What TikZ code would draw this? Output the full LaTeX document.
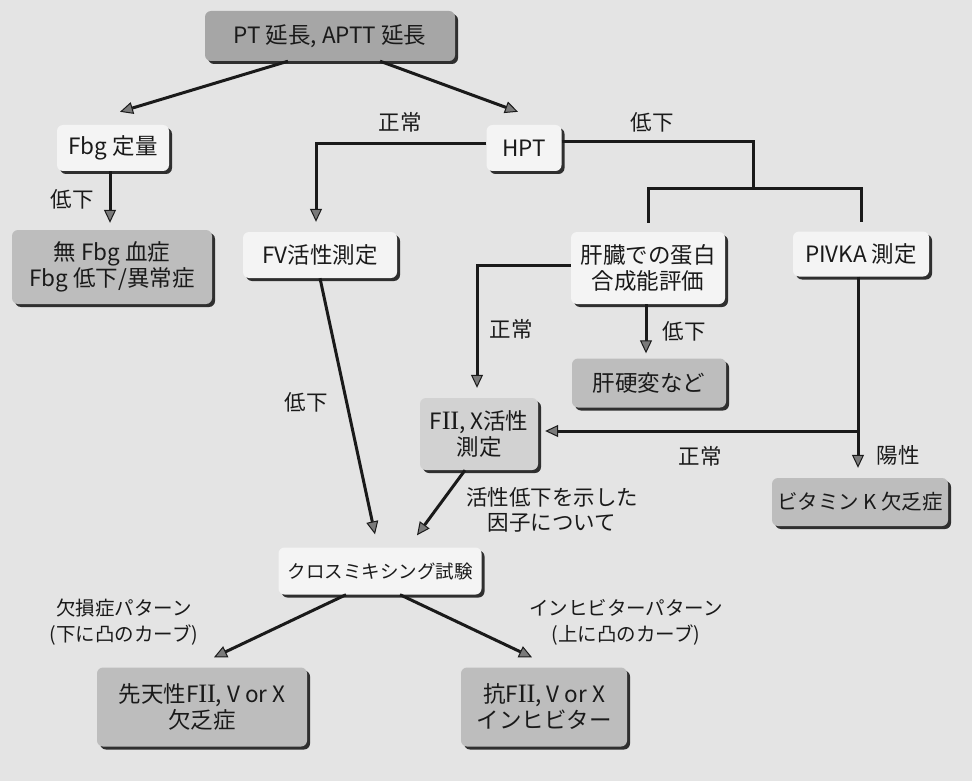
\documentclass[tikz,border=0pt]{standalone}
\usepackage{fontspec}
\setmainfont{Noto Sans CJK JP}
\newfontfamily\romfont{Liberation Serif}[Scale=1.18]
\newcommand{\rmii}{{\romfont I\kern-0.3pt I}}
\usetikzlibrary{arrows.meta,shadows,calc}
\definecolor{bgcol}{HTML}{E4E4E4}
\definecolor{lightfill}{HTML}{F4F4F4}
\definecolor{midfill}{HTML}{D2D2D2}
\definecolor{grayfill}{HTML}{BDBDBD}
\definecolor{darkfill}{HTML}{A6A6A6}
\definecolor{ink}{HTML}{1A1A1A}
\definecolor{tipfill}{HTML}{7A7A7A}
\begin{document}
\begin{tikzpicture}[x=1pt,y=-1pt,
  boxbase/.style={rounded corners=6pt, align=center, inner sep=0pt, text=ink,
    font=\fontsize{22.5}{26}\selectfont,
    drop shadow={shadow xshift=3pt, shadow yshift=-3pt, fill=black!85, opacity=0.95}},
  lightbox/.style={boxbase, fill=lightfill},
  midbox/.style={boxbase, fill=midfill},
  graybox/.style={boxbase, fill=grayfill},
  darkbox/.style={boxbase, fill=darkfill},
  lab/.style={font=\fontsize{21.5}{25}\selectfont, text=ink, inner sep=0pt, align=center},
  smalllab/.style={font=\fontsize{19.5}{26}\selectfont, text=ink, inner sep=0pt, align=center},
  conn/.style={draw=ink, line width=3pt},
  arr/.style={conn, -{Triangle[length=13pt,width=12pt,fill=tipfill,line width=1pt]}},
]
\fill[bgcol] (0,0) rectangle (972,781);
\useasboundingbox (0,0) rectangle (972,781);

% boxes
\node[darkbox, minimum width=250pt, minimum height=50pt] (pt) at (330,36) {PT 延長, APTT 延長};
\node[lightbox, minimum width=112pt, minimum height=46pt] (fbg) at (113,148) {Fbg 定量};
\node[graybox, minimum width=200pt, minimum height=74pt] (mufbg) at (112,267) {無 Fbg 血症\\Fbg 低下/異常症};
\node[lightbox, minimum width=75pt, minimum height=46pt] (hpt) at (524,148) {HPT};
\node[lightbox, minimum width=154pt, minimum height=46pt] (fv) at (320,255) {FV活性測定};
\node[lightbox, minimum width=154pt, minimum height=72pt] (kanzo) at (648,268) {肝臓での蛋白\\合成能評価};
\node[lightbox, minimum width=136pt, minimum height=45pt] (pivka) at (861,254) {PIVKA 測定};
\node[graybox, minimum width=154pt, minimum height=49pt] (kanko) at (649,383) {肝硬変など};
\node[midbox, minimum width=118pt, minimum height=72pt] (f2x) at (479,434) {F\rmii, X活性\\測定};
\node[graybox, minimum width=176pt, minimum height=48pt, font=\fontsize{20.5}{24}\selectfont] (vitk) at (860,502) {ビタミン K 欠乏症};
\node[lightbox, minimum width=203pt, minimum height=47pt, font=\fontsize{18.5}{22}\selectfont] (cross) at (380,571) {クロスミキシング試験};
\node[graybox, minimum width=210pt, minimum height=79pt] (sentensei) at (202,707) {先天性F\rmii, V or X\\欠乏症};
\node[graybox, minimum width=166pt, minimum height=79pt] (kou) at (544,707) {抗F\rmii, V or X\\インヒビター};

% labels
\node[lab] (l1) at (400,122) {正常};
\node[lab] (l2) at (652,122) {低下};
\node[lab] (l3) at (72,199) {低下};
\node[lab] (l4) at (306,402) {低下};
\node[lab] (l5) at (511,329) {正常};
\node[lab] (l6) at (684,331) {低下};
\node[lab] (l7) at (700,456) {正常};
\node[lab] (l8) at (898,455) {陽性};
\node[lab] (l9) at (552,510) {活性低下を示した\\因子について};
\node[smalllab] (l10) at (124,622) {欠損症パターン\\(下に凸のカーブ)};
\node[smalllab] (l11) at (626,622) {インヒビターパターン\\(上に凸のカーブ)};

% connectors
\draw[arr] ([xshift=-42pt]pt.south) -- ([xshift=7pt,yshift=13pt]fbg.north);
\draw[arr] ([xshift=50pt]pt.south) -- ([xshift=-6pt,yshift=13pt]hpt.north);
\draw[arr] ([yshift=4pt]hpt.west) -| ([xshift=-4pt,yshift=10pt]fv.north);
\draw[arr] ([xshift=-3pt]fbg.south) -- ([xshift=-3pt,yshift=7pt]fbg.south |- mufbg.north);

\coordinate (split) at (753,188);
\draw[conn] ([yshift=6pt]hpt.east) -| (split);
\draw[conn] ([yshift=9pt]kanzo.north) |- (split) -| ([yshift=9pt]pivka.north);

\draw[arr] ([yshift=3pt]kanzo.west) -| ([xshift=-2pt,yshift=10pt]f2x.north);
\draw[arr] ([xshift=-2pt]kanzo.south) -- ([xshift=-3pt,yshift=5pt]kanko.north);
\draw[arr] ([xshift=-3pt]pivka.south) -- ([xshift=-2pt,yshift=10pt]vitk.north);
\coordinate (jn) at ([xshift=-3pt]pivka.south |- f2x.east);
\draw[arr] ([yshift=3pt]jn) -- ([xshift=7pt,yshift=3pt]f2x.east);

\draw[arr] (fv.south) -- ([xshift=-5pt,yshift=13pt]cross.north);
\draw[arr] ([xshift=-14pt]f2x.south) -- ([xshift=37pt,yshift=12pt]cross.north);
\draw[arr] ([xshift=-34pt]cross.south) -- ([xshift=12pt,yshift=10pt]sentensei.north);
\draw[arr] ([xshift=20pt]cross.south) -- ([xshift=-12pt,yshift=10pt]kou.north);
\end{tikzpicture}
\end{document}
